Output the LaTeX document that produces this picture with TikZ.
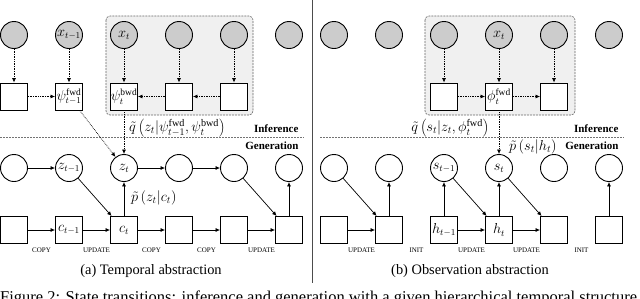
\documentclass[tikz,border=0pt]{standalone}
\usepackage{fontspec}
\setmainfont{Liberation Serif}
\usetikzlibrary{arrows.meta}

\tikzset{
  obs/.style={circle, draw, line width=0.9pt, fill=black!20, minimum size=27pt, inner sep=0pt},
  lat/.style={circle, draw, line width=0.9pt, fill=white, minimum size=27pt, inner sep=0pt},
  det/.style={rectangle, draw, line width=0.9pt, fill=white, minimum size=27pt, inner sep=0pt},
  inf/.style={densely dotted, line width=0.7pt, -{Latex[length=4.5pt,width=4pt]}},
  gen/.style={line width=0.7pt, -{Latex[length=4.5pt,width=4pt]}},
  op/.style={font=\fontsize{7}{8}\selectfont},
  lbl/.style={font=\fontsize{14.5}{16}\selectfont, inner sep=1pt},
  sep/.style={dash pattern=on 2pt off 1pt, black!55, line width=0.5pt},
  plate/.style={draw=black!60, dash pattern=on 2pt off 1pt, rounded corners=4pt, fill=black!6, line width=0.6pt}
}

\begin{document}
\begin{tikzpicture}[x=1pt, y=-1pt, every node/.style={font=\fontsize{13.5}{15}\selectfont}]
\useasboundingbox (0,0) rectangle (640,298);

% shaded plates
\draw[plate] (106,16) rectangle (253,115);
\draw[plate] (425,16) rectangle (575,115);

% separators
\draw[sep] (0,137) -- (304,137);
\draw[sep] (320,137) -- (624,137);
\draw[black!70, line width=0.6pt] (312,0) -- (312,283);

% (a) temporal abstraction
\foreach \n/\x/\lab in {1/14/{},2/69/{$x_{t-1}$},3/124/{$x_t$},4/179/{},5/234/{},6/289/{}}
  \node[obs] (xa\n) at (\x,35) {\lab};
\foreach \n/\x/\lab in {1/14/{},2/69/{$\psi^{\mathrm{fwd}}_{t-1}$},3/124/{$\psi^{\mathrm{bwd}}_t$},4/179/{},5/234/{}}
  \node[det] (pa\n) at (\x,96.5) {\lab};
\foreach \n/\x/\lab in {1/14/{},2/69/{$z_{t-1}$},3/124/{$z_t$},4/179/{},5/234/{},6/289/{}}
  \node[lat] (za\n) at (\x,168) {\lab};
\foreach \n/\x/\lab in {1/14/{},2/69/{$c_{t-1}$},3/124/{$c_t$},4/179/{},5/234/{},6/289/{}}
  \node[det] (ca\n) at (\x,230) {\lab};

\foreach \n in {1,...,5}
  \draw[inf] (xa\n) -- (pa\n);
\draw[inf] (pa1) -- (pa2);
\draw[inf] (pa5) -- (pa4);
\draw[inf] (pa4) -- (pa3);
\draw[inf] (pa2) -- (za3);
\draw[inf] (pa3) -- (za3);

\draw[gen] (za1) -- (za2);
\draw[gen] (za3) -- (za4);
\draw[gen] (za4) -- (za5);
\draw[gen] (za2) -- (ca3);
\draw[gen] (ca3) -- (za3);
\draw[gen] (za5) -- (ca6);
\draw[gen] (ca6) -- (za6);
\foreach \a/\b in {1/2,2/3,3/4,4/5,5/6}
  \draw[gen] (ca\a) -- (ca\b);

\foreach \x/\op in {41.5/COPY,96.5/UPDATE,151.5/COPY,206.5/COPY,261.5/UPDATE}
  \node[op] at (\x,250.5) {\op};

\node[lbl, anchor=west] (qa) at (128,128) {$\tilde q\left(z_t|\psi^{\mathrm{fwd}}_{t-1},\psi^{\mathrm{bwd}}_t\right)$};
\node[lbl, anchor=west] (pza) at (130,198) {$\tilde p\left(z_t|c_t\right)$};
\node[anchor=east, font=\fontsize{11}{13}\bfseries] (infa) at (302,129) {Inference};
\node[anchor=east, font=\fontsize{11}{13}\bfseries] (gena) at (302,146) {Generation};
\node[font=\fontsize{14.4}{16}\selectfont] (capa) at (151,271) {(a) Temporal abstraction};

% (b) observation abstraction
\foreach \n/\x/\lab in {1/334/{},2/389/{},3/444/{},4/499/{$x_t$},5/554/{},6/609/{}}
  \node[obs] (xb\n) at (\x,35) {\lab};
\foreach \n/\x/\lab in {3/444/{},4/499/{$\phi^{\mathrm{fwd}}_t$},5/554/{}}
  \node[det] (pb\n) at (\x,96.5) {\lab};
\foreach \n/\x/\lab in {1/334/{},2/389/{},3/444/{$s_{t-1}$},4/499/{$s_t$},5/554/{},6/609/{}}
  \node[lat] (sb\n) at (\x,168) {\lab};
\foreach \n/\x/\lab in {1/334/{},2/389/{},3/444/{$h_{t-1}$},4/499/{$h_t$},5/554/{},6/609/{}}
  \node[det] (hb\n) at (\x,230) {\lab};

\foreach \n in {3,4,5}
  \draw[inf] (xb\n) -- (pb\n);
\draw[inf] (pb3) -- (pb4);
\draw[inf] (pb4) -- (pb5);
\draw[inf] (pb4) -- (sb4);

\draw[gen] (hb1) -- (hb2);
\draw[gen] (sb1) -- (hb2);
\draw[gen] (hb2) -- (sb2);
\draw[gen] (hb3) -- (sb3);
\draw[gen] (sb3) -- (hb4);
\draw[gen] (hb3) -- (hb4);
\draw[gen] (hb4) -- (sb4);
\draw[gen] (sb4) -- (hb5);
\draw[gen] (hb4) -- (hb5);
\draw[gen] (hb6) -- (sb6);

\foreach \x/\op in {361.5/UPDATE,416.5/INIT,471.5/UPDATE,526.5/UPDATE,581.5/INIT}
  \node[op] at (\x,250.5) {\op};

\node[lbl, anchor=east] (qb) at (490,128) {$\tilde q\left(s_t|z_t,\phi^{\mathrm{fwd}}_t\right)$};
\node[lbl, anchor=west] (psb) at (508,147) {$\tilde p\left(s_t|h_t\right)$};
\node[anchor=east, font=\fontsize{11}{13}\bfseries] (infb) at (622,129) {Inference};
\node[anchor=east, font=\fontsize{11}{13}\bfseries] (genb) at (622,146) {Generation};
\node[font=\fontsize{14.4}{16}\selectfont] (capb) at (470,271) {(b) Observation abstraction};

% figure caption, cut by the page edge
\node[anchor=base west, inner sep=0pt, font=\fontsize{16.5}{18}\selectfont] (fig) at (0,302.5) {Figure 2: State transitions: inference and generation with a given hierarchical temporal structure.};
\end{tikzpicture}
\end{document}
